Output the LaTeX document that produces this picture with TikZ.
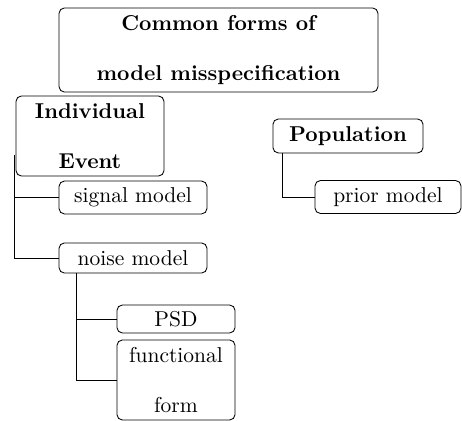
\documentclass[tikz,border=0pt]{standalone}
\begin{document}
\begin{tikzpicture}[x=0.465pt, y=-0.465pt,
		main/.style = {draw, rounded corners=2.5pt, align=center, inner sep=0pt},
		head/.style = {main, font=\bfseries}]
		\useasboundingbox (0,0) rectangle (462,421);
		\node[head, minimum width=148.3pt, minimum height=39.1pt] (root) at (218.5,50) {Common forms of\\[11pt]model misspecification};
		\node[head, minimum width=68.8pt, minimum height=37.2pt] (ind) at (90,136) {Individual\\[11pt]Event};
		\node[head, minimum width=69.8pt, minimum height=15.8pt] (pop) at (348,136) {Population};
		\node[main, minimum width=68.8pt, minimum height=15.3pt] (sig) at (133,197.5) {signal model};
		\node[main, minimum width=67.9pt, minimum height=15.3pt] (prior) at (388,197) {prior model};
		\node[main, minimum width=68.8pt, minimum height=14pt] (noise) at (133,258) {noise model};
		\node[main, minimum width=54.9pt, minimum height=13pt] (psd) at (176,319) {PSD};
		\node[main, minimum width=54.9pt, minimum height=37.2pt] (form) at (176,380) {functional\\[11pt]form};
		\coordinate (indfoot) at ([shift={(-1,-21)}]ind.south west);
		\draw (indfoot) |- (sig.west);
		\draw (indfoot) |- (noise.west);
		\draw ([shift={(10,0)}]pop.south west) |- (prior.west);
		\draw ([shift={(18,0)}]noise.south west) |- (psd.west);
		\draw ([shift={(18,0)}]noise.south west) |- (form.west);
	\end{tikzpicture}
\end{document}
